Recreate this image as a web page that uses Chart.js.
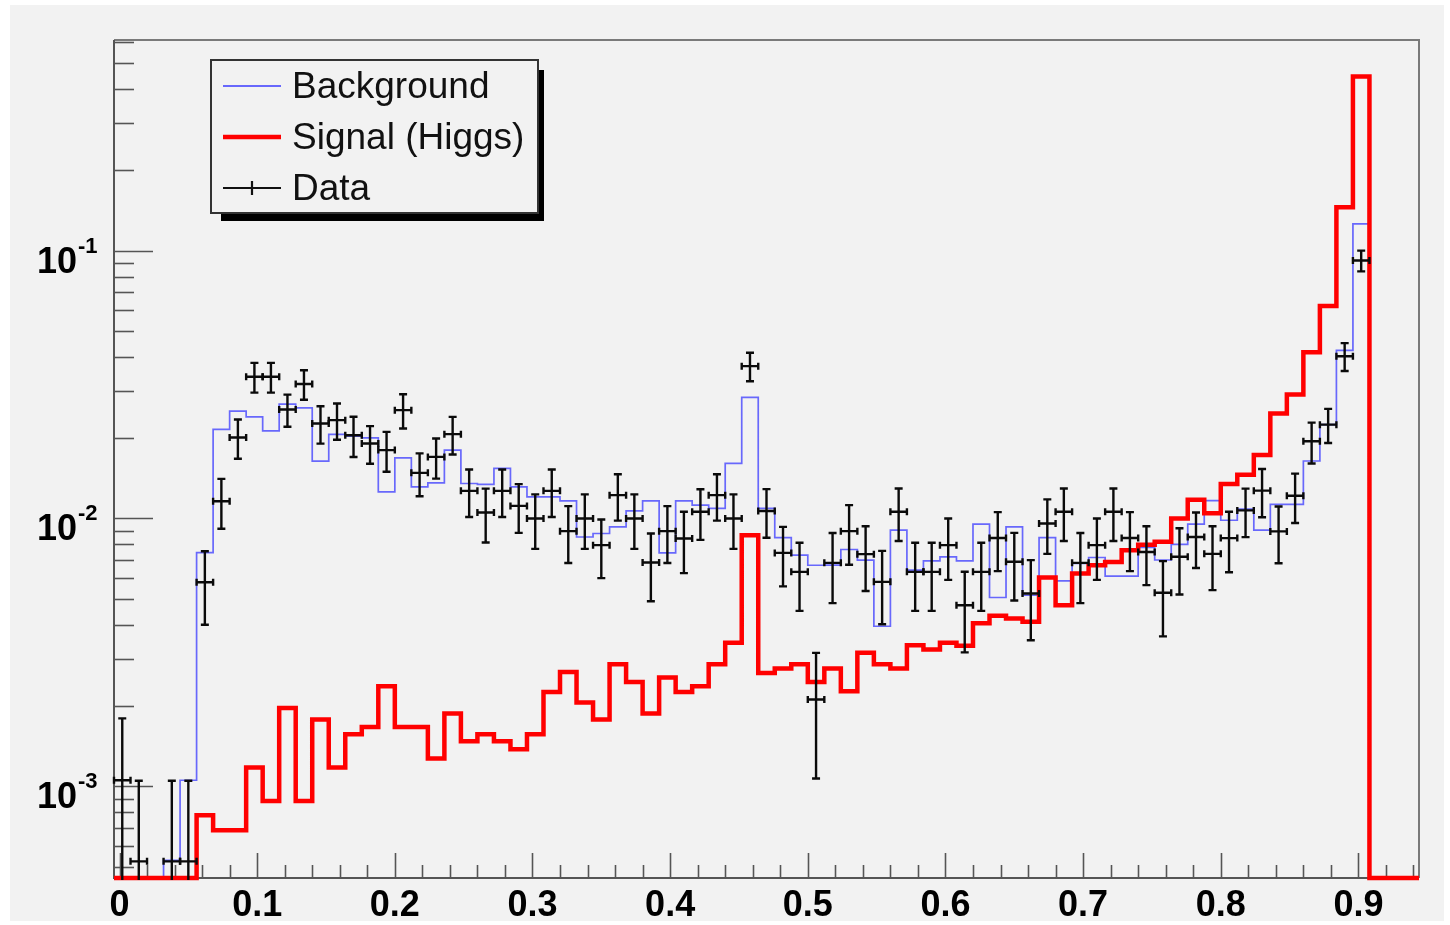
<!DOCTYPE html>
<html><head><meta charset="utf-8">
<script src="https://cdn.jsdelivr.net/npm/chart.js@4/dist/chart.umd.min.js"></script>
<style>html,body{margin:0;padding:0;background:#fff;overflow:hidden}canvas{display:block}</style>
</head><body>
<canvas id="c" width="1450" height="925"></canvas>
<script>
// ---- histogram definition ----
const binLowEdge = -0.004;
const binWidth = 0.012;

// ---- series (one value per bin, 79 bins) ----
const signalValues = [
  0, 0, 0, 0, 0, 7.8e-4, 6.86e-4, 6.86e-4, 1.175e-3, 8.82e-4,
  1.963e-3, 8.82e-4, 1.776e-3, 1.175e-3, 1.565e-3, 1.667e-3, 2.365e-3, 1.667e-3, 1.667e-3, 1.27e-3,
  1.87e-3, 1.474e-3, 1.565e-3, 1.474e-3, 1.376e-3, 1.565e-3, 2.252e-3, 2.674e-3, 2.056e-3, 1.776e-3,
  2.857e-3, 2.455e-3, 1.87e-3, 2.548e-3, 2.252e-3, 2.365e-3, 2.857e-3, 3.44e-3, 8.66e-3, 2.65e-3,
  2.754e-3, 2.857e-3, 2.455e-3, 2.754e-3, 2.265e-3, 3.155e-3, 2.857e-3, 2.754e-3, 3.365e-3, 3.243e-3,
  3.436e-3, 3.35e-3, 4.064e-3, 4.335e-3, 4.232e-3, 4.118e-3, 6.02e-3, 4.745e-3, 6.23e-3, 6.69e-3,
  6.886e-3, 7.61e-3, 7.98e-3, 8.18e-3, 1.0e-2, 1.175e-2, 1.047e-2, 1.346e-2, 1.455e-2, 1.725e-2,
  2.464e-2, 2.902e-2, 4.174e-2, 6.21e-2, 0.1452, 0.446, 0, 0, 0
];
const backgroundValues = [
  0, 0, 0, 5.3e-4, 1.054e-3, 7.46e-3, 2.149e-2, 2.515e-2, 2.395e-2, 2.124e-2,
  2.671e-2, 2.588e-2, 1.637e-2, 2.06e-2, 2.03e-2, 2.0e-2, 1.257e-2, 1.684e-2, 1.312e-2, 1.358e-2,
  1.8e-2, 1.351e-2, 1.34e-2, 1.537e-2, 1.312e-2, 1.204e-2, 1.204e-2, 1.164e-2, 8.53e-3, 8.79e-3,
  9.30e-3, 1.067e-2, 1.164e-2, 7.44e-3, 1.164e-2, 1.121e-2, 1.09e-2, 1.605e-2, 2.83e-2, 1.09e-2,
  8.49e-3, 7.3e-3, 6.69e-3, 6.7e-3, 7.66e-3, 6.99e-3, 3.96e-3, 9.04e-3, 6.41e-3, 6.95e-3,
  7.19e-3, 6.95e-3, 9.52e-3, 5.07e-3, 9.30e-3, 5.17e-3, 8.49e-3, 5.85e-3, 6.79e-3, 7.15e-3,
  6.09e-3, 6.09e-3, 7.8e-3, 7.0e-3, 8.0e-3, 9.52e-3, 1.166e-2, 9.85e-3, 1.083e-2, 9.04e-3,
  1.128e-2, 1.128e-2, 1.639e-2, 2.24e-2, 4.24e-2, 0.1259, 0, 0, 0
];
const dataValues = [
  1.054e-3, 5.25e-4, null, 5.25e-4, 5.25e-4, 5.78e-3, 1.16e-2, 2.006e-2, 3.38e-2, 3.38e-2,
  2.55e-2, 3.175e-2, 2.263e-2, 2.328e-2, 2.046e-2, 1.906e-2, 1.8e-2, 2.537e-2, 1.48e-2, 1.698e-2,
  2.064e-2, 1.268e-2, 1.053e-2, 1.268e-2, 1.114e-2, 1.0e-2, 1.268e-2, 8.97e-3, 1.0e-2, 7.95e-3,
  1.222e-2, 1.0e-2, 6.85e-3, 8.97e-3, 8.42e-3, 1.059e-2, 1.222e-2, 1.0e-2, 3.704e-2, 1.067e-2,
  7.44e-3, 6.32e-3, 2.11e-3, 6.83e-3, 8.97e-3, 7.36e-3, 5.80e-3, 1.059e-2, 6.32e-3, 6.32e-3,
  7.95e-3, 4.745e-3, 6.32e-3, 8.46e-3, 6.89e-3, 5.25e-3, 9.58e-3, 1.059e-2, 6.83e-3, 7.95e-3,
  1.059e-2, 8.46e-3, 7.5e-3, 5.28e-3, 7.2e-3, 8.53e-3, 7.38e-3, 8.45e-3, 1.072e-2, 1.27e-2,
  8.95e-3, 1.216e-2, 1.942e-2, 2.24e-2, 4.033e-2, 9.18e-2, null, null, null
];
const dataErrors = [
  7.4e-4, 5.25e-4, null, 5.25e-4, 5.25e-4, 1.77e-3, 2.45e-3, 3.35e-3, 4.3e-3, 4.3e-3,
  3.5e-3, 4.0e-3, 3.6e-3, 3.6e-3, 3.5e-3, 3.05e-3, 3.05e-3, 3.7e-3, 2.7e-3, 2.9e-3,
  3.3e-3, 2.55e-3, 2.4e-3, 2.55e-3, 2.3e-3, 2.3e-3, 2.55e-3, 2.15e-3, 2.3e-3, 1.96e-3,
  2.4e-3, 2.3e-3, 1.94e-3, 2.15e-3, 2.17e-3, 2.27e-3, 2.4e-3, 2.3e-3, 4.5e-3, 2.2e-3,
  1.86e-3, 1.8e-3, 1.04e-3, 2.0e-3, 2.25e-3, 2.0e-3, 1.77e-3, 2.35e-3, 1.8e-3, 1.8e-3,
  2.05e-3, 1.58e-3, 1.8e-3, 2.1e-3, 1.95e-3, 1.74e-3, 2.2e-3, 2.35e-3, 2.0e-3, 2.05e-3,
  2.35e-3, 2.1e-3, 1.86e-3, 1.65e-3, 2.0e-3, 2.0e-3, 1.98e-3, 2.15e-3, 2.2e-3, 2.6e-3,
  2.14e-3, 2.54e-3, 3.37e-3, 3.26e-3, 4.8e-3, 8.2e-3, null, null, null
];

// ---- axes / ticks ----
const xMin = -0.004, xMax = 0.944;
const yMin = 4.55e-4, yMax = 0.611;
const xTickValues = [0, 0.1, 0.2, 0.3, 0.4, 0.5, 0.6, 0.7, 0.8, 0.9];
const xTickLabels = ['0', '0.1', '0.2', '0.3', '0.4', '0.5', '0.6', '0.7', '0.8', '0.9'];
const xMinorStep = 0.02;
const yDecadeExponents = [-3, -2, -1];
const legendLabels = ['Background', 'Signal (Higgs)', 'Data'];

const FONT = '"Liberation Sans", Arial, Helvetica, sans-serif';
const BG = '#f2f2f2';
const BLUE = 'rgba(50,50,255,0.72)';
const RED = '#ff0000';

function stepPoints(values) {
  const pts = [];
  values.forEach((v, i) => {
    const yv = v > yMin ? v : yMin;
    const lo = binLowEdge + i * binWidth;
    pts.push({x: lo, y: yv}, {x: lo + binWidth, y: yv});
  });
  return pts;
}
function dataPoints() {
  const pts = [];
  dataValues.forEach((v, i) => {
    if (v == null) return;
    pts.push({x: binLowEdge + (i + 0.5) * binWidth, y: v});
  });
  return pts;
}

const bgPlugin = {
  id: 'bgfill',
  beforeDraw(chart) {
    const ctx = chart.ctx;
    ctx.save();
    ctx.fillStyle = '#ffffff';
    ctx.fillRect(0, 0, chart.width, chart.height);
    ctx.fillStyle = BG;
    ctx.fillRect(10, 5, 1434, 916);
    ctx.restore();
  },
  beforeDatasetsDraw(chart) {
    const {ctx, chartArea: a, scales: {x, y}} = chart;
    ctx.save();
    // frame
    ctx.lineWidth = 2;
    ctx.strokeStyle = '#7a7a7a';
    ctx.beginPath();
    ctx.moveTo(a.left, a.top); ctx.lineTo(a.right, a.top); ctx.lineTo(a.right, a.bottom);
    ctx.stroke();
    ctx.strokeStyle = '#555';
    ctx.beginPath();
    ctx.moveTo(a.left, a.top); ctx.lineTo(a.left, a.bottom); ctx.lineTo(a.right, a.bottom);
    ctx.stroke();
    // x ticks
    ctx.strokeStyle = '#555';
    ctx.lineWidth = 1.6;
    const nMinor = Math.round((xMax - 0) / xMinorStep);
    for (let k = 0; k <= nMinor; k++) {
      const v = k * xMinorStep;
      if (v > xMax) break;
      const px = Math.round(x.getPixelForValue(v)) + 0.5;
      const isMajor = Math.abs(v * 10 - Math.round(v * 10)) < 1e-6;
      ctx.beginPath();
      ctx.moveTo(px, a.bottom);
      ctx.lineTo(px, a.bottom - (isMajor ? 25 : 13));
      ctx.stroke();
    }
    // y ticks
    for (let d = -4; d <= -1; d++) {
      for (let k = 1; k <= 9; k++) {
        const v = k * Math.pow(10, d);
        if (v < yMin || v > yMax) continue;
        const py = Math.round(y.getPixelForValue(v)) + 0.5;
        ctx.beginPath();
        ctx.moveTo(a.left, py);
        ctx.lineTo(a.left + (k === 1 ? 39 : 20), py);
        ctx.stroke();
      }
    }
    // x labels
    ctx.fillStyle = '#000';
    ctx.font = 'bold 36px ' + FONT;
    ctx.textAlign = 'center';
    ctx.textBaseline = 'alphabetic';
    xTickValues.forEach((v, i) => {
      ctx.fillText(xTickLabels[i], x.getPixelForValue(v), 916);
    });
    // y labels
    ctx.textAlign = 'left';
    yDecadeExponents.forEach(e => {
      const py = y.getPixelForValue(Math.pow(10, e));
      ctx.font = 'bold 36px ' + FONT;
      ctx.fillText('10', 37, py + 22);
      const w = ctx.measureText('10').width;
      ctx.font = 'bold 22px ' + FONT;
      ctx.fillText(String(e), 37 + w + 1, py + 2);
    });
    ctx.restore();
  },
  afterDatasetsDraw(chart) {
    const {ctx, chartArea: a, scales: {x, y}} = chart;
    ctx.save();
    ctx.beginPath();
    ctx.rect(a.left - 2, a.top, a.right - a.left + 4, a.bottom - a.top + 2);
    ctx.clip();
    ctx.strokeStyle = '#0a0a0a';
    ctx.lineWidth = 2.4;
    dataValues.forEach((v, i) => {
      if (v == null) return;
      const e = dataErrors[i];
      const lo = binLowEdge + i * binWidth;
      const xl = x.getPixelForValue(lo), xr = x.getPixelForValue(lo + binWidth);
      const xc = (xl + xr) / 2;
      const yc = y.getPixelForValue(v);
      const yt = y.getPixelForValue(v + e);
      const yb = (v - e) > 0 ? y.getPixelForValue(v - e) : a.bottom + 20;
      ctx.beginPath();
      ctx.moveTo(xc, yt); ctx.lineTo(xc, yb);
      ctx.moveTo(xl, yc); ctx.lineTo(xr, yc);
      // caps
      ctx.moveTo(xc - 4, yt); ctx.lineTo(xc + 4, yt);
      ctx.moveTo(xc - 4, yb); ctx.lineTo(xc + 4, yb);
      ctx.moveTo(xl, yc - 3.5); ctx.lineTo(xl, yc + 3.5);
      ctx.moveTo(xr, yc - 3.5); ctx.lineTo(xr, yc + 3.5);
      ctx.stroke();
    });
    ctx.restore();
  },
  afterDraw(chart) {
    const ctx = chart.ctx;
    ctx.save();
    // shadow
    ctx.fillStyle = '#000';
    ctx.fillRect(221, 70, 323, 151);
    // box
    ctx.fillStyle = BG;
    ctx.fillRect(211, 60, 327, 153);
    ctx.strokeStyle = '#333';
    ctx.lineWidth = 2;
    ctx.strokeRect(211, 60, 327, 153);
    const rows = [86, 137, 188];
    const styles = [{c: BLUE, w: 2}, {c: RED, w: 4.5}, {c: '#111', w: 2.2}];
    rows.forEach((ry, i) => {
      ctx.strokeStyle = styles[i].c;
      ctx.lineWidth = styles[i].w;
      ctx.beginPath();
      ctx.moveTo(223, ry); ctx.lineTo(281, ry);
      if (i === 2) { ctx.moveTo(252, ry - 7); ctx.lineTo(252, ry + 7); }
      ctx.stroke();
      ctx.fillStyle = '#111';
      ctx.font = '37px ' + FONT;
      ctx.textAlign = 'left';
      ctx.textBaseline = 'alphabetic';
      ctx.fillText(legendLabels[i], 292, ry + 12);
    });
    ctx.restore();
  }
};

new Chart(document.getElementById('c'), {
  type: 'line',
  data: {
    datasets: [
      {label: legendLabels[2], data: dataPoints(), showLine: false, pointRadius: 0, order: 0},
      {label: legendLabels[1], data: stepPoints(signalValues), borderColor: RED, borderWidth: 4.5,
       pointRadius: 0, tension: 0, fill: false, order: 1, clip: {left: 0, top: 0, right: 0, bottom: 3},
       borderJoinStyle: 'miter'},
      {label: legendLabels[0], data: stepPoints(backgroundValues), borderColor: BLUE, borderWidth: 1.7,
       pointRadius: 0, tension: 0, fill: false, order: 2, clip: {left: 0, top: 0, right: 0, bottom: 1},
       borderJoinStyle: 'miter'}
    ]
  },
  options: {
    responsive: false,
    animation: false,
    devicePixelRatio: 1,
    layout: {padding: {left: 114, top: 40, right: 31, bottom: 47}},
    plugins: {legend: {display: false}, tooltip: {enabled: false}},
    events: [],
    scales: {
      x: {type: 'linear', min: xMin, max: xMax, display: false},
      y: {type: 'logarithmic', min: yMin, max: yMax, display: false}
    }
  },
  plugins: [bgPlugin]
});
</script>
</body></html>
